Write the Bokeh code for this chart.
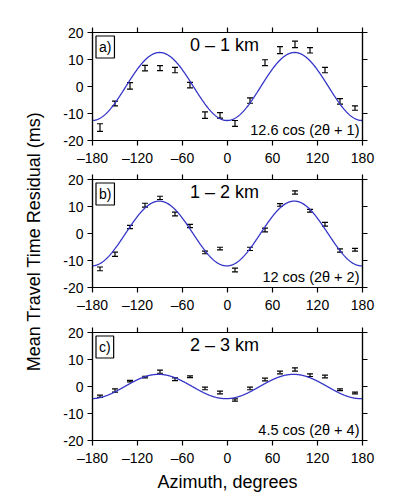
import numpy as np
from bokeh.plotting import figure
from bokeh.layouts import column, row
from bokeh.models import (ColumnDataSource, Whisker, TeeHead, Label, LinearAxis,
                          FixedTicker, Range1d)
from bokeh.embed import file_html
from bokeh.resources import INLINE

# ---------------- data ----------------
azimuth = [-170, -150, -130, -110, -90, -70, -50, -30, -10,
           10, 30, 50, 70, 90, 110, 130, 150, 170]

res_a = [-15.2, -6.3, 0.2, 6.8, 6.8, 6.1, 0.5, -10.6, -10.7,
         -13.7, -5.2, 8.8, 13.5, 15.6, 13.4, 6.1, -5.5, -8.0]
err_a = [1.4, 0.9, 1.2, 1.0, 0.9, 1.0, 1.0, 1.2, 1.0,
         1.1, 1.0, 1.1, 1.3, 1.2, 1.0, 1.0, 1.0, 0.8]

res_b = [-13.1, -7.7, 2.4, 10.5, 13.2, 7.2, 2.8, -7.0, -5.6,
         -13.5, -5.7, 1.3, 10.6, 15.2, 8.4, 3.4, -6.3, -6.0]
err_b = [0.7, 0.8, 0.6, 0.7, 0.6, 0.7, 0.6, 0.5, 0.5,
         0.7, 0.6, 0.7, 0.5, 0.6, 0.5, 0.7, 0.6, 0.5]

res_c = [-3.6, -1.5, 2.0, 3.5, 5.5, 2.7, 3.6, -0.7, -2.2,
         -5.0, -0.7, 2.6, 5.2, 6.3, 4.2, 3.7, -1.2, -2.4]
err_c = [0.4, 0.6, 0.3, 0.3, 0.6, 0.5, 0.3, 0.5, 0.5,
         0.4, 0.5, 0.5, 0.5, 0.6, 0.5, 0.5, 0.3, 0.3]

amplitudes = [12.6, 12.0, 4.5]
phases = [1, 2, 4]
panel_tags = ["a)", "b)", "c)"]
depth_labels = ["0 \u2013 1 km", "1 \u2013 2 km", "2 \u2013 3 km"]
fit_labels = ["12.6 cos (2\u03b8 + 1)", "12 cos (2\u03b8 + 2)", "4.5 cos (2\u03b8 + 4)"]

x_ticks = [-180, -120, -60, 0, 60, 120, 180]
x_tick_labels = ["\u2013180", "\u2013120", "\u201360", "0", "60", "120", "180"]
y_ticks = [-20, -10, 0, 10, 20]
y_tick_labels = ["-20", "-10", "0", "10", "20"]

x_title = "Azimuth, degrees"
y_title = "Mean Travel Time Residual (ms)"

FONT = "Liberation Sans"
CURVE = "#3434c8"

# (top border, bottom border) of each panel around its 108 px frame
BORDERS = [(32, 27), (11, 28), (17, 57)]
HEIGHTS = [t + 108 + b for t, b in BORDERS]
TOTAL_H = sum(HEIGHTS)


def style_axis(ax, ticks, labels, show_labels):
    ax.ticker = FixedTicker(ticks=ticks)
    if show_labels:
        ax.major_label_overrides = {t: l for t, l in zip(ticks, labels)}
        ax.major_label_text_font_size = "14px"
        ax.major_label_standoff = 4
    else:
        ax.major_label_overrides = {t: "" for t in ticks}
        ax.major_label_text_font_size = "1px"
        ax.major_label_standoff = 0
    ax.major_tick_out = 5
    ax.major_tick_in = 0
    ax.minor_tick_out = 0
    ax.minor_tick_in = 0
    ax.axis_line_width = 1.2
    ax.major_tick_line_width = 1.2
    ax.axis_line_color = "black"
    ax.major_tick_line_color = "black"
    ax.major_label_text_font = FONT
    ax.major_label_text_color = "black"
    ax.axis_label_text_font = FONT
    ax.axis_label_text_font_size = "18px"
    ax.axis_label_text_font_style = "normal"
    ax.axis_label_text_color = "black"


def make_panel(i, res, err, xlabel=None):
    top_border, bottom_border = BORDERS[i]
    p = figure(frame_width=270, frame_height=108,
               x_range=Range1d(-180, 180), y_range=Range1d(-20, 20),
               output_backend="svg", toolbar_location=None,
               min_border_left=42, min_border_right=14,
               min_border_top=top_border, min_border_bottom=bottom_border)
    p.xgrid.visible = False
    p.ygrid.visible = False
    p.outline_line_color = "black"
    p.outline_line_width = 1.2

    bottom_ax = p.below[0]
    left_ax = p.left[0]
    style_axis(bottom_ax, x_ticks, x_tick_labels, True)
    style_axis(left_ax, y_ticks, y_tick_labels, True)
    top_ax = LinearAxis()
    right_ax = LinearAxis()
    p.add_layout(top_ax, "above")
    p.add_layout(right_ax, "right")
    style_axis(top_ax, x_ticks, x_tick_labels, False)
    style_axis(right_ax, y_ticks, y_tick_labels, False)

    if xlabel:
        bottom_ax.axis_label = xlabel
        bottom_ax.axis_label_standoff = 3

    theta = np.linspace(-180, 180, 721)
    fit = -amplitudes[i] * np.cos(np.radians(2 * theta + phases[i]))
    p.line(theta, fit, line_color=CURVE, line_width=1.3)

    src = ColumnDataSource(dict(
        x=azimuth,
        upper=[r + e for r, e in zip(res, err)],
        lower=[r - e for r, e in zip(res, err)],
    ))
    w = Whisker(source=src, base="x", upper="upper", lower="lower",
                line_color="black", line_width=1.2,
                upper_head=TeeHead(size=6, line_color="black", line_width=1.2),
                lower_head=TeeHead(size=6, line_color="black", line_width=1.2))
    p.add_layout(w)

    p.add_layout(Label(x=-180, y=20, x_offset=3.5, y_offset=-3.5, text=panel_tags[i],
                       text_align="left", text_baseline="top",
                       text_font=FONT, text_font_size="14px", text_color="black",
                       border_line_color="black", border_line_width=1.2,
                       background_fill_color="white", padding=3))
    p.add_layout(Label(x=-4, y=20, y_offset=-12, text=depth_labels[i],
                       text_align="center", text_baseline="middle",
                       text_font=FONT, text_font_size="18px", text_color="black"))
    p.add_layout(Label(x=180, y=-20, x_offset=-3, y_offset=10.5, text=fit_labels[i],
                       text_align="right", text_baseline="middle",
                       text_font=FONT, text_font_size="14.5px", text_color="black"))
    return p


pa = make_panel(0, res_a, err_a)
pb = make_panel(1, res_b, err_b)
pc = make_panel(2, res_c, err_c, xlabel=x_title)

# side figure holding the shared y-axis title
side = figure(width=50, height=TOTAL_H, x_range=Range1d(0, 50),
              y_range=Range1d(0, TOTAL_H), output_backend="svg",
              toolbar_location=None, min_border=0)
side.axis.visible = False
side.xgrid.visible = False
side.ygrid.visible = False
side.outline_line_color = None
side.add_layout(Label(x=33, y=TOTAL_H - 241, text=y_title, angle=np.pi / 2,
                      text_align="center", text_baseline="middle",
                      text_font=FONT, text_font_size="18px", text_color="black"))

layout = row(side, column(pa, pb, pc, spacing=0), spacing=0)

open("out.html", "w").write(file_html(layout, INLINE))
